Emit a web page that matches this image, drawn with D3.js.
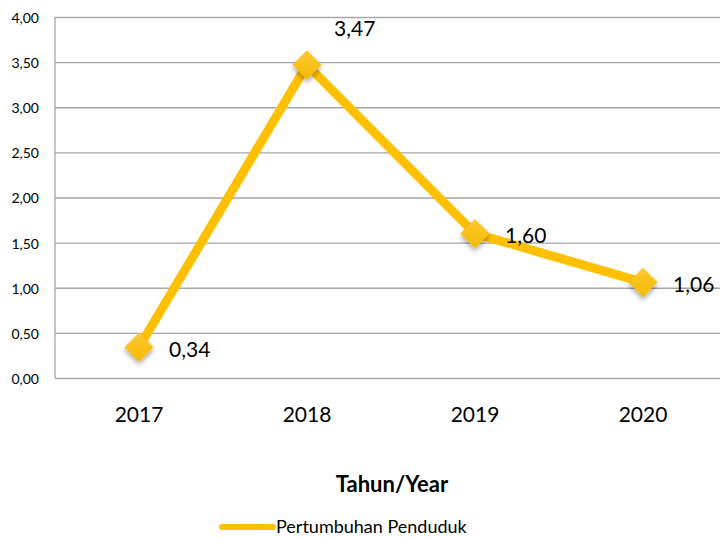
<!DOCTYPE html>
<html>
<head>
<meta charset="utf-8">
<script src="https://cdn.jsdelivr.net/npm/d3@7"></script>
<style>
  body { margin: 0; background: #fff; }
  text { font-family: Lato, "Open Sans", sans-serif; fill: #000; }
</style>
</head>
<body>
<div id="chart"></div>
<script>
// data
var years = ['2017', '2018', '2019', '2020'];
var growth = [0.34, 3.47, 1.60, 1.06];
var yTicks = [0, 0.5, 1, 1.5, 2, 2.5, 3, 3.5, 4];
var seriesName = 'Pertumbuhan Penduduk';

var W = 720, H = 537;
var mLeft = 55, mTop = 17, mBottom = 378, mRight = 727;

var svg = d3.select('#chart').append('svg').attr('width', W).attr('height', H);

var defs = svg.append('defs');
var grad = defs.append('linearGradient').attr('id', 'mk').attr('x1', 0).attr('y1', 0).attr('x2', 0).attr('y2', 1);
grad.append('stop').attr('offset', '0%').attr('stop-color', '#FFC933');
grad.append('stop').attr('offset', '100%').attr('stop-color', '#F5B800');
var shadow = defs.append('filter').attr('id', 'sh').attr('x', '-50%').attr('y', '-50%').attr('width', '200%').attr('height', '200%');
shadow.append('feDropShadow').attr('dx', 0).attr('dy', 3).attr('stdDeviation', 2.5).attr('flood-color', '#000').attr('flood-opacity', 0.35);

var x = d3.scaleBand().domain(years).range([mLeft, mRight]);
var y = d3.scaleLinear().domain([0, 4]).range([mBottom, mTop]);

var fmt = v => v.toFixed(2).replace('.', ',');

// grid
svg.append('g')
    .attr('transform', `translate(${mLeft},0)`)
    .call(d3.axisLeft(y).tickValues(yTicks).tickSize(-(W - mLeft)).tickFormat(''))
    .call(g => g.select('.domain').remove())
    .selectAll('line').attr('stroke', '#a6a6a6').attr('stroke-width', 1.3);

// y axis line + labels
svg.append('line').attr('x1', mLeft).attr('x2', mLeft).attr('y1', mTop).attr('y2', mBottom)
    .attr('stroke', '#a6a6a6').attr('stroke-width', 1.3);

svg.append('g').selectAll('text')
    .data(yTicks)
    .enter().append('text')
    .attr('x', 39)
    .attr('y', d => y(d) + 1)
    .attr('dy', '0.35em')
    .attr('text-anchor', 'end')
    .style('font-size', '14px')
    .text(fmt);

// x labels
svg.append('g').selectAll('text')
    .data(years)
    .enter().append('text')
    .attr('x', d => x(d) + x.bandwidth() / 2)
    .attr('y', 422)
    .attr('text-anchor', 'middle')
    .style('font-size', '21px')
    .text(d => d);

var pts = years.map((d, i) => [x(d) + x.bandwidth() / 2, y(growth[i])]);

svg.append('path')
    .attr('d', d3.line()(pts))
    .attr('fill', 'none')
    .attr('stroke', '#FFC000')
    .attr('stroke-width', 9)
    .attr('stroke-linejoin', 'round');

svg.append('g').selectAll('path')
    .data(pts)
    .enter().append('path')
    .attr('transform', d => `translate(${d[0]},${d[1]})`)
    .attr('d', d3.symbol().type(d3.symbolDiamond2).size(540))
    .attr('fill', 'url(#mk)')
    .attr('filter', 'url(#sh)');

// data labels
svg.append('g').selectAll('text')
    .data(growth)
    .enter().append('text')
    .attr('x', (d, i) => pts[i][0] + (i === 1 ? 27 : 30))
    .attr('y', (d, i) => pts[i][1] + (i === 1 ? -36 : 2))
    .attr('dy', '0.35em')
    .style('font-size', '21px')
    .text(fmt);

// axis title
svg.append('text')
    .attr('x', 392)
    .attr('y', 492)
    .attr('text-anchor', 'middle')
    .style('font-size', '22px')
    .style('font-weight', 'bold')
    .text('Tahun/Year');

// legend
var lg = svg.append('g').attr('transform', 'translate(222,527)');
lg.append('line').attr('x1', 0).attr('x2', 51).attr('y1', 0).attr('y2', 0)
    .attr('stroke', '#FFC000').attr('stroke-width', 6).attr('stroke-linecap', 'round');
lg.append('path').attr('transform', 'translate(26,0)')
    .attr('d', d3.symbol().type(d3.symbolDiamond2).size(30)).attr('fill', '#FFC000');
lg.append('text').attr('x', 54).attr('y', 0).attr('dy', '0.33em')
    .style('font-size', '18px')
    .text(seriesName);
</script>
</body>
</html>
